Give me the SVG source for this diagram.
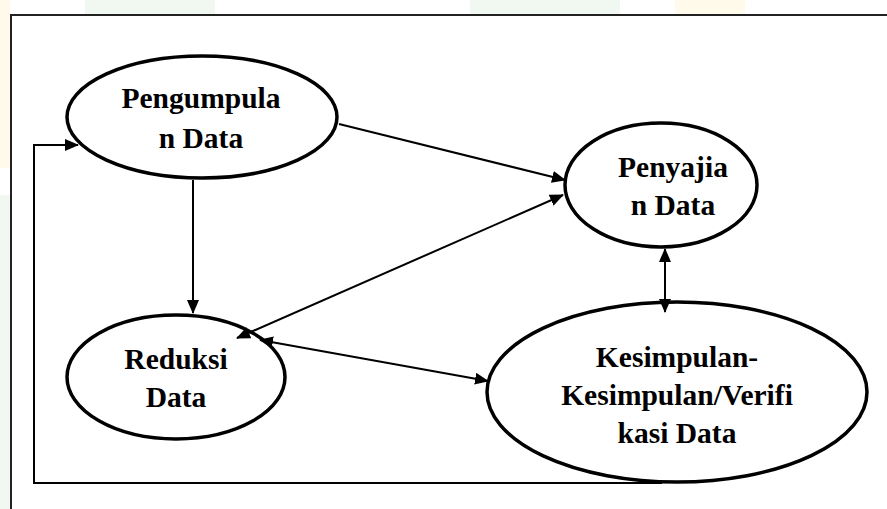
<svg xmlns="http://www.w3.org/2000/svg" width="887" height="509" viewBox="0 0 887 509">
  <style>
    .node ellipse { fill: #ffffff; stroke: #000000; stroke-width: 3.5; }
    .node text { font-family: "Liberation Serif", "Times New Roman", serif; font-weight: bold; font-size: 29.5px; fill: #000000; text-anchor: middle; }
    .conn { fill: none; stroke: #000000; stroke-width: 2; }
    .frame { fill: none; stroke: #222222; stroke-width: 2; }
  </style>
  <defs>
    <marker id="arrow" markerUnits="userSpaceOnUse" markerWidth="14" markerHeight="12" refX="13" refY="6" orient="auto-start-reverse">
      <path d="M0,0 L14,6 L0,12 z" fill="#000000"/>
    </marker>
  </defs>

  <g id="background">
    <rect x="0" y="0" width="887" height="509" fill="#ffffff"/>
    <rect x="0" y="0" width="10" height="168" fill="#fffaea"/>
    <rect x="0" y="195" width="10" height="314" fill="#f1f7f1"/>
    <rect x="85" y="0" width="130" height="14" fill="#f1f7f1"/>
    <rect x="470" y="0" width="150" height="14" fill="#f1f7f1"/>
    <rect x="675" y="0" width="70" height="14" fill="#fffaea"/>
    <path class="frame" d="M11,509 V15 H887"/>
  </g>

  <g id="node-pengumpulan" class="node">
    <ellipse cx="202" cy="117" rx="135" ry="61"/>
    <text x="201" y="108">Pengumpula</text>
    <text x="201" y="148">n Data</text>
  </g>

  <g id="node-penyajian" class="node">
    <ellipse cx="661" cy="185" rx="96" ry="62"/>
    <text x="673" y="177">Penyajia</text>
    <text x="673" y="215">n Data</text>
  </g>

  <g id="node-reduksi" class="node">
    <ellipse cx="176" cy="377" rx="109" ry="62"/>
    <text x="176" y="369">Reduksi</text>
    <text x="176" y="407">Data</text>
  </g>

  <g id="node-kesimpulan" class="node">
    <ellipse cx="677" cy="392" rx="190" ry="90"/>
    <text x="677" y="367">Kesimpulan-</text>
    <text x="677" y="405">Kesimpulan/Verifi</text>
    <text x="677" y="443">kasi Data</text>
  </g>

  <g id="connectors">
    <line class="conn" x1="339" y1="124" x2="565" y2="180" marker-end="url(#arrow)"/>
    <line class="conn" x1="193" y1="180" x2="193" y2="313" marker-end="url(#arrow)"/>
    <line class="conn" x1="563" y1="195" x2="237" y2="338" marker-start="url(#arrow)" marker-end="url(#arrow)"/>
    <line class="conn" x1="260" y1="340" x2="488" y2="381" marker-start="url(#arrow)" marker-end="url(#arrow)"/>
    <line class="conn" x1="665" y1="249" x2="665" y2="312" marker-start="url(#arrow)" marker-end="url(#arrow)"/>
    <path class="conn" d="M662,483 H34 V145 H78" marker-end="url(#arrow)"/>
  </g>
</svg>
